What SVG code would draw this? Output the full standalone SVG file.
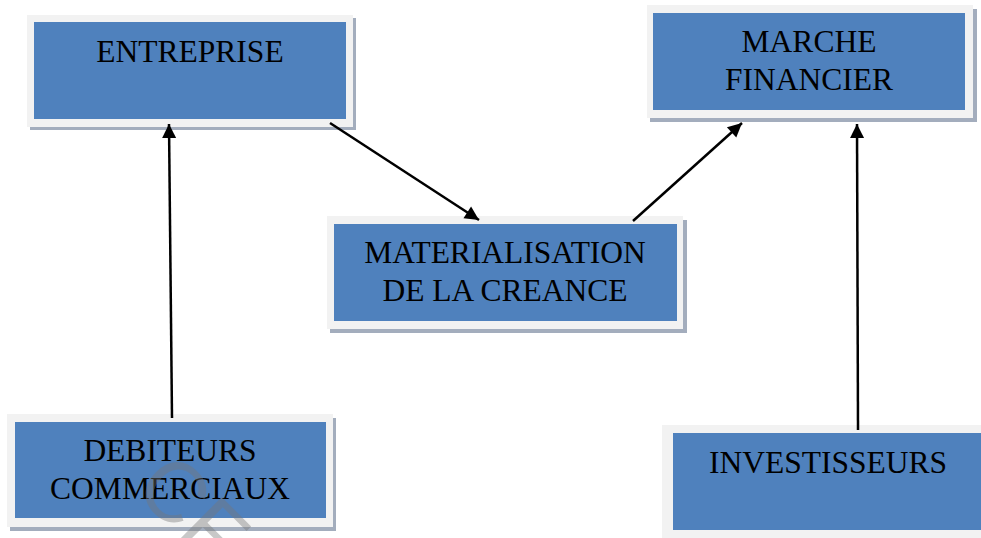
<svg xmlns="http://www.w3.org/2000/svg" width="981" height="538" viewBox="0 0 981 538">
<style>
.sh{fill:#a3adbd}
.fr{fill:#f2f2f2}
.bx{fill:#4f81bd}
.t{font-family:"Liberation Serif","Times New Roman",serif;font-size:31.5px;fill:#000;text-anchor:middle}
.c{stroke:#000;stroke-width:2.5;fill:none;marker-end:url(#ah)}
</style>
<defs>
<marker id="ah" viewBox="0 0 10 10" refX="10" refY="5" markerWidth="18" markerHeight="14" markerUnits="userSpaceOnUse" orient="auto" overflow="visible">
<path d="M0,0 L10,5 L0,10 z" fill="#000"/>
</marker>
</defs>
<rect width="981" height="538" fill="#fff"/>
<g id="entreprise">
<rect class="sh" x="30" y="18" width="326" height="112"/>
<rect class="fr" x="27" y="15" width="326" height="112"/>
<rect class="bx" x="34" y="22" width="312" height="97"/>
<text class="t" x="190" y="62">ENTREPRISE</text>
</g>
<g id="marche">
<rect class="sh" x="650" y="9" width="327" height="113"/>
<rect class="fr" x="647" y="5" width="326" height="113"/>
<rect class="bx" x="653" y="13" width="312" height="97"/>
<text class="t" x="809" y="52">MARCHE</text>
<text class="t" x="809" y="90">FINANCIER</text>
</g>
<g id="materialisation">
<rect class="sh" x="330" y="220" width="357" height="113"/>
<rect class="fr" x="327" y="216" width="356" height="113"/>
<rect class="bx" x="334" y="224" width="343" height="97"/>
<text class="t" x="505" y="263">MATERIALISATION</text>
<text class="t" x="505" y="301">DE LA CREANCE</text>
</g>
<g id="debiteurs">
<rect class="sh" x="10" y="418" width="326" height="113"/>
<rect class="fr" x="7" y="414" width="326" height="113"/>
<rect class="bx" x="15" y="422" width="311" height="96"/>
<text class="t" x="170" y="461">DEBITEURS</text>
<text class="t" x="170" y="499">COMMERCIAUX</text>
</g>
<g id="investisseurs">
<rect class="fr" x="662" y="425" width="330" height="113"/>
<rect class="bx" x="673" y="433" width="312" height="97"/>
<text class="t" x="828" y="473">INVESTISSEURS</text>
</g>
<g id="watermark" opacity="0.4">
<text x="132" y="490" transform="rotate(45 132 490)" font-family="Liberation Sans, Arial, sans-serif" font-size="85" fill="#777">CF</text>
</g>
<g id="connectors">
<line class="c" x1="172" y1="418" x2="169" y2="124"/>
<line class="c" x1="330" y1="123" x2="479" y2="220"/>
<line class="c" x1="633" y1="221" x2="742" y2="123"/>
<line class="c" x1="858" y1="430" x2="857" y2="124"/>
</g>
</svg>
